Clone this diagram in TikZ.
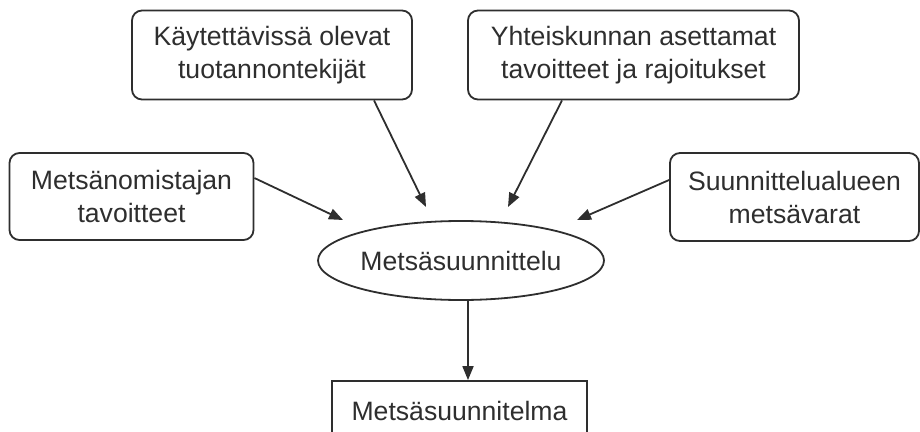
\documentclass[tikz,border=0pt]{standalone}
\usepackage{fontspec}
\setmainfont{Liberation Sans}
\usetikzlibrary{arrows.meta,shapes.geometric}
\definecolor{ink}{HTML}{2E2E2E}
\begin{document}
\begin{tikzpicture}[x=1pt,y=-1pt,
  every node/.style={font=\fontsize{26.6}{33}\selectfont, text=ink, align=center, inner sep=0pt},
  rbox/.style={draw=ink, line width=1.8pt, rounded corners=10pt},
  pbox/.style={draw=ink, line width=1.8pt},
  conn/.style={draw=ink, line width=1.8pt, -{Triangle[length=14pt,width=11pt]}}]
\useasboundingbox (0,0) rectangle (920,431);
\clip (0,0) rectangle (920,431);
\node[rbox, minimum width=244pt, minimum height=87pt] (own) at (131.5,196.5) {Metsänomistajan\\tavoitteet};
\node[rbox, minimum width=280pt, minimum height=89pt] (prod) at (272,55) {Käytettävissä olevat\\tuotannontekijät};
\node[rbox, minimum width=331pt, minimum height=89pt] (soc) at (633.5,55) {Yhteiskunnan asettamat\\tavoitteet ja rajoitukset};
\node[rbox, minimum width=249pt, minimum height=88pt] (res) at (794.5,197) {Suunnittelualueen\\metsävarat};
\node[ellipse, draw=ink, line width=1.8pt, minimum width=286pt, minimum height=79pt] (plan) at (461,260.5) {Metsäsuunnittelu};
\node[pbox, minimum width=255pt, minimum height=60pt] (out) at (459.5,411) {Metsäsuunnitelma};
\coordinate (a1) at (343,220);
\coordinate (a2) at (426,207);
\coordinate (a3) at (508,207);
\coordinate (a4) at (577,220);
\path[conn] (own.east |- 0,178) -- (a1);
\path[conn] (prod.south -| 374,0) -- (a2);
\path[conn] (soc.south -| 562,0) -- (a3);
\path[conn] (res.west |- 0,180) -- (a4);
\path[conn] (plan.south -| 468,0) -- (out.north -| 468,0);
\end{tikzpicture}
\end{document}
